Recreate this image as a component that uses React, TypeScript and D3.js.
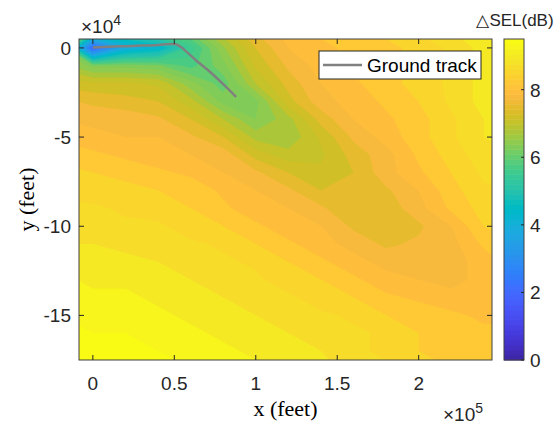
import * as d3 from 'd3'

// grid where ΔSEL was read (feet)
const colX = [-20000, 0, 20000, 40000, 60000, 80000, 100000, 120000, 140000, 160000, 180000, 200000, 220000, 240000, 260000]
const rowY = [10000, 0, -10000, -20000, -30000, -40000, -50000, -60000, -70000, -80000, -90000, -100000, -110000, -120000, -130000, -140000, -150000, -160000, -170000, -180000]

// ΔSEL (dB), one row per rowY entry
const sel = [
  [6.4, 6.0, 5.6, 6.0, 6.4, 7.2, 7.8, 8.1, 8.3, 8.5, 8.6, 8.8, 9.0, 9.2, 9.3],
  [7.0, 2.0, 4.0, 4.4, 5.6, 6.7, 7.5, 8.0, 8.2, 8.3, 8.4, 8.6, 8.8, 9.1, 9.2],
  [6.9, 6.4, 6.4, 6.3, 5.9, 6.4, 7.3, 7.8, 8.1, 8.3, 8.4, 8.6, 8.8, 9.1, 9.2],
  [7.4, 7.3, 7.3, 7.2, 6.6, 6.1, 7.0, 7.6, 8.0, 8.2, 8.4, 8.6, 8.8, 9.1, 9.2],
  [7.8, 7.7, 7.6, 7.5, 7.1, 6.4, 6.4, 7.4, 7.9, 8.1, 8.3, 8.5, 8.8, 9.1, 9.2],
  [8.0, 7.9, 7.9, 7.8, 7.5, 7.0, 6.5, 6.9, 7.6, 8.0, 8.2, 8.4, 8.7, 9.0, 9.1],
  [8.2, 8.1, 8.0, 8.0, 7.8, 7.5, 6.9, 6.8, 7.3, 7.8, 8.1, 8.4, 8.7, 9.0, 9.1],
  [8.4, 8.3, 8.2, 8.1, 8.0, 7.9, 7.4, 7.1, 7.2, 7.6, 7.9, 8.3, 8.6, 8.9, 9.0],
  [8.6, 8.5, 8.4, 8.3, 8.2, 8.0, 7.8, 7.5, 7.3, 7.5, 7.9, 8.2, 8.5, 8.8, 8.9],
  [8.7, 8.6, 8.6, 8.5, 8.4, 8.2, 8.0, 7.8, 7.5, 7.5, 7.7, 8.0, 8.4, 8.7, 8.8],
  [8.8, 8.8, 8.7, 8.6, 8.5, 8.3, 8.1, 8.0, 7.8, 7.5, 7.6, 7.9, 8.3, 8.6, 8.7],
  [8.9, 8.9, 8.8, 8.8, 8.6, 8.5, 8.3, 8.1, 8.0, 7.7, 7.6, 7.7, 8.0, 8.5, 8.6],
  [9.0, 9.0, 8.9, 8.9, 8.8, 8.7, 8.5, 8.3, 8.1, 7.9, 7.7, 7.8, 7.9, 8.3, 8.5],
  [9.2, 9.2, 9.1, 9.0, 8.9, 8.8, 8.7, 8.5, 8.3, 8.1, 7.9, 7.8, 7.9, 8.1, 8.4],
  [9.3, 9.2, 9.2, 9.1, 9.0, 8.9, 8.8, 8.6, 8.5, 8.3, 8.1, 8.0, 7.9, 8.1, 8.3],
  [9.4, 9.3, 9.3, 9.2, 9.1, 9.0, 8.9, 8.8, 8.6, 8.5, 8.3, 8.2, 8.1, 8.0, 8.2],
  [9.5, 9.4, 9.4, 9.3, 9.2, 9.1, 9.0, 8.9, 8.8, 8.7, 8.5, 8.4, 8.3, 8.2, 8.2],
  [9.6, 9.5, 9.5, 9.4, 9.3, 9.2, 9.1, 9.0, 8.9, 8.8, 8.7, 8.5, 8.4, 8.3, 8.3],
  [9.6, 9.6, 9.5, 9.5, 9.4, 9.3, 9.2, 9.1, 9.0, 8.8, 8.7, 8.5, 8.4, 8.3, 8.3],
  [9.7, 9.7, 9.6, 9.6, 9.5, 9.4, 9.3, 9.2, 9.1, 8.9, 8.8, 8.6, 8.5, 8.4, 8.4],
]

const trackX = [0, 10000, 20000, 30000, 40000, 48000, 51000, 54000, 58000, 64000, 72000, 80000, 88000]
const trackY = [300, 700, 1000, 1300, 1700, 2200, 2000, 500, -2500, -7500, -13500, -20300, -27500]

const xTicks = [0, 50000, 100000, 150000, 200000]
const xTickLabels = ['0', '0.5', '1', '1.5', '2']
const yTicks = [0, -50000, -100000, -150000]
const yTickLabels = ['0', '-5', '-10', '-15']
const cbTicks = [0, 2, 4, 6, 8]

// parula (64)
const parula = [
  [0.2422, 0.1504, 0.6603], [0.2504, 0.165, 0.7076], [0.2578, 0.1818, 0.7511], [0.2647, 0.1978, 0.7952],
  [0.2706, 0.2147, 0.8364], [0.2751, 0.2342, 0.871], [0.2783, 0.2559, 0.8991], [0.2803, 0.2782, 0.9221],
  [0.2813, 0.3006, 0.9414], [0.281, 0.3228, 0.9579], [0.2795, 0.3447, 0.9717], [0.276, 0.3667, 0.9829],
  [0.2699, 0.3892, 0.9906], [0.2602, 0.4123, 0.9952], [0.244, 0.4358, 0.9988], [0.2206, 0.4603, 0.9973],
  [0.1963, 0.4847, 0.9892], [0.1834, 0.5074, 0.9798], [0.1786, 0.5289, 0.9682], [0.1764, 0.5499, 0.952],
  [0.1687, 0.5703, 0.9359], [0.154, 0.5902, 0.9218], [0.146, 0.6091, 0.9079], [0.138, 0.6276, 0.8973],
  [0.1248, 0.6459, 0.8883], [0.1113, 0.6635, 0.8763], [0.0952, 0.6798, 0.8598], [0.0689, 0.6948, 0.8394],
  [0.0297, 0.7082, 0.8163], [0.0036, 0.7203, 0.7917], [0.0067, 0.7312, 0.766], [0.0433, 0.7411, 0.7394],
  [0.0964, 0.75, 0.712], [0.1408, 0.7584, 0.6842], [0.1717, 0.767, 0.6554], [0.1938, 0.7758, 0.6251],
  [0.2161, 0.7843, 0.5923], [0.247, 0.7918, 0.5567], [0.2906, 0.7973, 0.5188], [0.3406, 0.8008, 0.4789],
  [0.3909, 0.8029, 0.4354], [0.4456, 0.8024, 0.3909], [0.5044, 0.7993, 0.348], [0.5616, 0.7942, 0.3045],
  [0.6174, 0.7876, 0.2612], [0.672, 0.7793, 0.2227], [0.7242, 0.7698, 0.191], [0.7738, 0.7598, 0.1646],
  [0.8203, 0.7498, 0.1535], [0.8634, 0.7406, 0.1596], [0.9035, 0.733, 0.1774], [0.9393, 0.7288, 0.21],
  [0.9728, 0.7298, 0.2394], [0.9956, 0.7434, 0.2371], [0.997, 0.7659, 0.2199], [0.9952, 0.7893, 0.2028],
  [0.9892, 0.8136, 0.1885], [0.9786, 0.8386, 0.1766], [0.9676, 0.8639, 0.1643], [0.961, 0.889, 0.1537],
  [0.9597, 0.9135, 0.1423], [0.9628, 0.9373, 0.1265], [0.9691, 0.9606, 0.1064], [0.9769, 0.9839, 0.0805],
].map(c => d3.rgb(c[0] * 255, c[1] * 255, c[2] * 255).formatHex())

const CMAX = 9.5
const cmap = (v: number) => {
  const i = Math.max(0, Math.min(63, Math.floor(v / CMAX * 64)))
  return parula[i]
}

const AX = { left: 79, right: 492, top: 39, bottom: 360 }
const CB = { left: 504, right: 524 }
const tickFont = "'Liberation Sans', Arial, Helvetica, sans-serif"
const labelFont = "'Liberation Serif', 'Times New Roman', serif"

export default function App() {
  const x = d3.scaleLinear().domain([-8500, 245000]).range([AX.left, AX.right])
  const y = d3.scaleLinear().domain([-175000, 5000]).range([AX.bottom, AX.top])
  const c = d3.scaleLinear().domain([0, CMAX]).range([AX.bottom, AX.top])

  const nx = colX.length
  const ny = rowY.length
  const dx = colX[1] - colX[0]
  const dy = rowY[0] - rowY[1]
  const levels = d3.range(0, 10, 0.25)
  const contours = d3.contours().size([nx, ny]).thresholds(levels)(sel.flat())
  const proj = d3.geoTransform({
    point(px: number, py: number) {
      // @ts-ignore
      this.stream.point(x(colX[0] + (px - 0.5) * dx), y(rowY[0] - (py - 0.5) * dy))
    },
  })
  const path = d3.geoPath(proj)

  const track = d3.line<number>()
    .x((_, i) => x(trackX[i]))
    .y((_, i) => y(trackY[i]))
    .curve(d3.curveMonotoneX)(trackX)

  const cbH = (AX.bottom - AX.top) / parula.length

  return (
    <svg width={559} height={426} style={{ position: 'absolute', left: 0, top: 0, background: '#fff' }}>
      <defs>
        <clipPath id="plotclip">
          <rect x={AX.left} y={AX.top} width={AX.right - AX.left} height={AX.bottom - AX.top} />
        </clipPath>
      </defs>
      <g clipPath="url(#plotclip)">
        {contours.map((ct, i) => (
          <path key={i} d={path(ct as any) || ''} fill={cmap(ct.value)} stroke={cmap(ct.value)} strokeWidth={0.3} />
        ))}
        <path d={track || ''} fill="none" stroke="#808080" strokeWidth={2.5} />
      </g>
      {/* axes box */}
      <rect x={AX.left} y={AX.top} width={AX.right - AX.left} height={AX.bottom - AX.top} fill="none" stroke="#404040" strokeWidth={1} />
      {xTicks.map((t, i) => (
        <g key={'xt' + i}>
          <line x1={x(t)} x2={x(t)} y1={AX.bottom} y2={AX.bottom - 5} stroke="#262626" />
          <line x1={x(t)} x2={x(t)} y1={AX.top} y2={AX.top + 5} stroke="#262626" />
          <text x={x(t)} y={390} textAnchor="middle" fontFamily={tickFont} fontSize={19} fill="#262626">{xTickLabels[i]}</text>
        </g>
      ))}
      {yTicks.map((t, i) => (
        <g key={'yt' + i}>
          <line x1={AX.left} x2={AX.left + 5} y1={y(t)} y2={y(t)} stroke="#262626" />
          <line x1={AX.right} x2={AX.right - 5} y1={y(t)} y2={y(t)} stroke="#262626" />
          <text x={71} y={y(t) + 7} textAnchor="end" fontFamily={tickFont} fontSize={19} fill="#262626">{yTickLabels[i]}</text>
        </g>
      ))}
      <text x={81} y={33} fontFamily={tickFont} fontSize={19} fill="#262626">
        ×10<tspan dy={-8} fontSize={14}>4</tspan>
      </text>
      <text x={443} y={421} fontFamily={tickFont} fontSize={19} fill="#262626">
        ×10<tspan dy={-8} fontSize={14}>5</tspan>
      </text>
      <text x={(AX.left + AX.right) / 2} y={416} textAnchor="middle" fontFamily={labelFont} fontSize={22} fill="#000">x (feet)</text>
      <text transform={`translate(34,${(AX.top + AX.bottom) / 2}) rotate(-90)`} textAnchor="middle" fontFamily={labelFont} fontSize={22} fill="#000">y (feet)</text>

      {/* legend */}
      <rect x={319} y={51} width={162} height={28} fill="#fff" stroke="#262626" strokeWidth={1} />
      <line x1={323} x2={362} y1={65} y2={65} stroke="#808080" strokeWidth={2.5} />
      <text x={367} y={72} fontFamily={tickFont} fontSize={19} fill="#000">Ground track</text>

      {/* colorbar */}
      {parula.map((col, i) => (
        <rect key={'cb' + i} x={CB.left} y={AX.bottom - (i + 1) * cbH} width={CB.right - CB.left} height={cbH + 0.5} fill={col} />
      ))}
      <rect x={CB.left} y={AX.top} width={CB.right - CB.left} height={AX.bottom - AX.top} fill="none" stroke="#404040" strokeWidth={1} />
      {cbTicks.map((t, i) => (
        <g key={'cbt' + i}>
          <line x1={CB.right} x2={CB.right - 3} y1={c(t)} y2={c(t)} stroke="#262626" />
          <text x={530} y={c(t) + 7} fontFamily={tickFont} fontSize={19} fill="#262626">{t}</text>
        </g>
      ))}
      <text x={515} y={26} textAnchor="middle" fontFamily={tickFont} fontSize={17} fill="#262626">△SEL(dB)</text>
    </svg>
  )
}
